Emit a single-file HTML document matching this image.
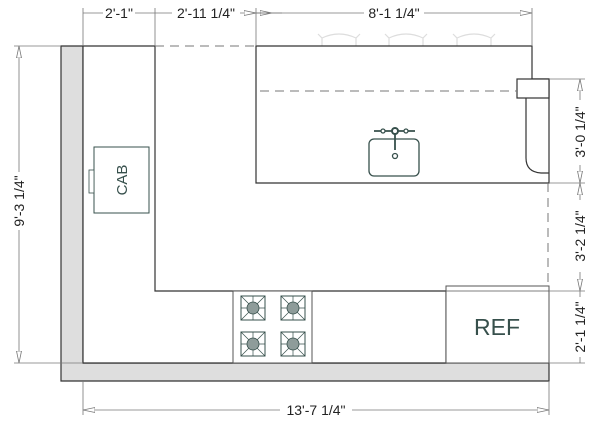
<!DOCTYPE html>
<html><head><style>body{margin:0;background:#fff}svg{display:block}text{font-family:"Liberation Sans",sans-serif}</style></head><body>
<svg width="600" height="424" viewBox="0 0 600 424" xmlns="http://www.w3.org/2000/svg">
<defs>
<marker id="a" markerWidth="12" markerHeight="6" refX="12" refY="3" orient="auto" markerUnits="userSpaceOnUse"><path d="M0,0.5 L12,3 L0,5.5 Z" fill="#fff" stroke="#777" stroke-width="0.8"/></marker>
<g id="b"><rect x="-12" y="-12" width="24" height="24" fill="#fff" stroke="#37504c" stroke-width="1"/><path d="M-12,-12L12,12M12,-12L-12,12M0,-12V12M-12,0H12" stroke="#37504c" stroke-width="0.7"/><circle r="6" fill="#8e9c9a" stroke="#37504c" stroke-width="0.8"/></g>
</defs>
<g fill="none" stroke="#ddd" stroke-width="1.2">
<path d="M318,34 L322,38 Q339,30 356,38 L360,34 M322,38 V46 M356,38 V46"/>
<path d="M385,34 L389,38 Q406,30 423,38 L427,34 M389,38 V46 M423,38 V46"/>
<path d="M453,34 L457,38 Q474,30 491,38 L495,34 M457,38 V46 M491,38 V46"/>
</g>
<path d="M61,46 H83 V363 H549 V381 H61 Z" fill="#dedede" stroke="#333" stroke-width="1.2"/>
<path d="M83,46 H155 V291 H446 V363 H83 Z" fill="#fff" stroke="#333" stroke-width="1.2"/>
<rect x="233" y="291" width="79" height="72" fill="#fff" stroke="#555" stroke-width="1"/>
<use href="#b" x="253" y="308"/><use href="#b" x="293" y="308"/><use href="#b" x="253" y="344"/><use href="#b" x="293" y="344"/>
<rect x="446" y="286" width="103" height="77" fill="#fff" stroke="#555" stroke-width="1"/>
<line x1="446" y1="291" x2="549" y2="291" stroke="#555" stroke-width="0.8"/>
<text x="497" y="335" font-size="23" fill="#37504c" text-anchor="middle">REF</text>
<rect x="94" y="147" width="55" height="66" fill="#fff" stroke="#37504c" stroke-width="1"/>
<rect x="89" y="170" width="5" height="23" fill="#fff" stroke="#37504c" stroke-width="0.8"/>
<text transform="translate(127,180) rotate(-90)" font-size="15" fill="#37504c" text-anchor="middle">CAB</text>
<path d="M256,46 H532 V79 H549 V183 H256 Z" fill="#fff" stroke="#333" stroke-width="1.2"/>
<rect x="517" y="79" width="32" height="19" fill="#fff" stroke="#333" stroke-width="1.2"/>
<path d="M526,98 V158 Q526,172 541,173 H549" fill="none" stroke="#333" stroke-width="1.2"/>
<line x1="260" y1="91" x2="517" y2="91" stroke="#777" stroke-dasharray="9,6"/>
<line x1="155" y1="46" x2="256" y2="46" stroke="#777" stroke-dasharray="9,6"/>
<line x1="548" y1="183" x2="548" y2="286" stroke="#777" stroke-dasharray="9,6"/>
<g stroke="#37504c" fill="none" stroke-width="1.3">
<rect x="369" y="139" width="50" height="37" rx="5"/>
<circle cx="395" cy="131" r="3" stroke-width="2"/><circle cx="383" cy="131" r="2"/><circle cx="406" cy="131" r="2"/>
<path d="M374,131H381M385,131H392M398,131H404M408,131H415M395,134V150" stroke-width="1.8"/>
<circle cx="395" cy="156" r="2.5"/>
</g>
<g stroke="#777" stroke-width="0.8" fill="none">
<line x1="83" y1="8" x2="83" y2="46"/><line x1="155" y1="8" x2="155" y2="46"/><line x1="256" y1="8" x2="256" y2="46"/><line x1="532" y1="8" x2="532" y2="46"/>
<line x1="83" y1="13" x2="103" y2="13"/><line x1="135" y1="13" x2="155" y2="13"/>
<line x1="155" y1="13" x2="172" y2="13"/><line x1="240" y1="13" x2="272" y2="13" marker-end="url(#a)"/>
<line x1="256" y1="13" x2="282" y2="13" marker-start="url(#a)"/>
<line x1="256" y1="13" x2="364" y2="13"/><line x1="424" y1="13" x2="532" y2="13" marker-end="url(#a)"/>
<line x1="14" y1="46" x2="61" y2="46"/><line x1="14" y1="363" x2="83" y2="363"/>
<line x1="19" y1="172" x2="19" y2="46" marker-end="url(#a)"/><line x1="19" y1="230" x2="19" y2="363" marker-end="url(#a)"/>
<line x1="83" y1="381" x2="83" y2="415"/><line x1="549" y1="381" x2="549" y2="415"/>
<line x1="280" y1="410" x2="83" y2="410" marker-end="url(#a)"/><line x1="352" y1="410" x2="549" y2="410" marker-end="url(#a)"/>
<line x1="549" y1="79" x2="585" y2="79"/><line x1="549" y1="183" x2="585" y2="183"/><line x1="549" y1="291" x2="585" y2="291"/><line x1="549" y1="363" x2="585" y2="363"/>
<line x1="580" y1="100" x2="580" y2="79" marker-end="url(#a)"/><line x1="580" y1="165" x2="580" y2="183" marker-end="url(#a)"/>
<line x1="580" y1="200" x2="580" y2="183" marker-end="url(#a)"/><line x1="580" y1="272" x2="580" y2="291" marker-end="url(#a)"/>
<line x1="580" y1="297" x2="580" y2="291"/><line x1="580" y1="357" x2="580" y2="363"/>
</g>
<g font-size="14" fill="#222" text-anchor="middle">
<text x="119" y="18">2'-1"</text>
<text x="206" y="18">2'-11 1/4"</text>
<text x="394" y="18">8'-1 1/4"</text>
<text x="316" y="415">13'-7 1/4"</text>
<text transform="translate(24,201) rotate(-90)">9'-3 1/4"</text>
<text transform="translate(585,132) rotate(-90)">3'-0 1/4"</text>
<text transform="translate(585,236) rotate(-90)">3'-2 1/4"</text>
<text transform="translate(585,327) rotate(-90)">2'-1 1/4"</text>
</g>
</svg>
</body></html>
